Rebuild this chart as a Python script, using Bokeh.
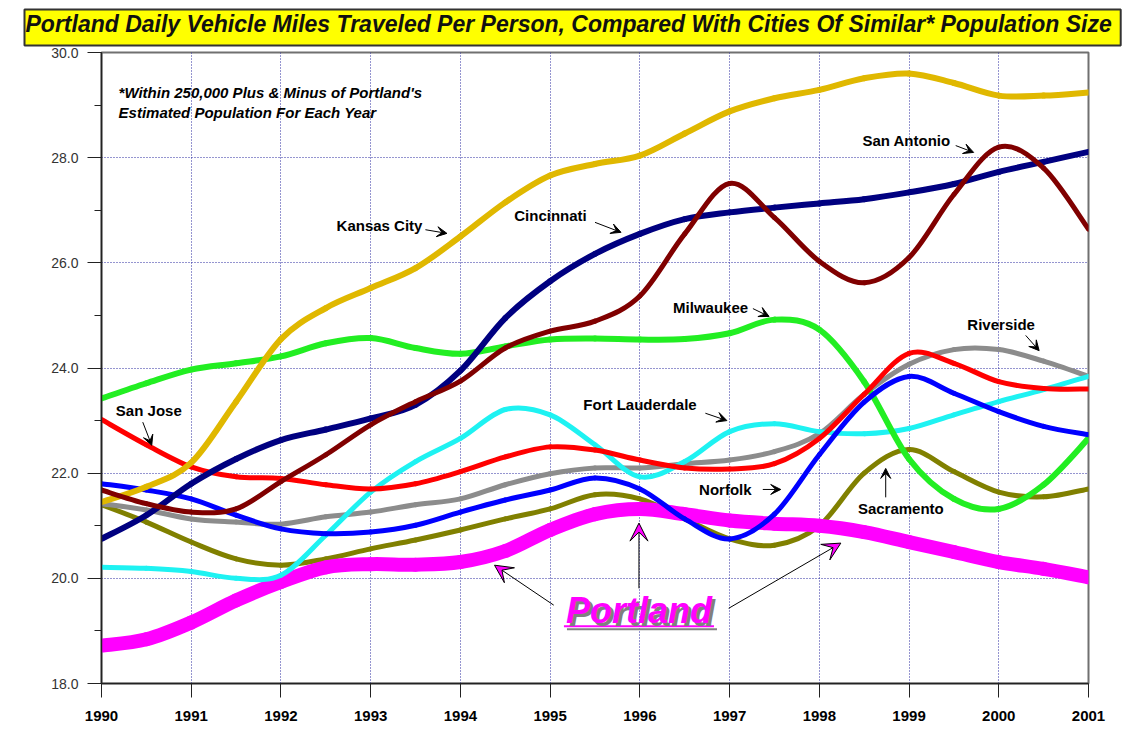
from bokeh.plotting import figure
from bokeh.models import (Range1d, FixedTicker, SingleIntervalTicker, Label, Arrow,
                          VeeHead, NumeralTickFormatter)
from bokeh.embed import file_html
from bokeh.resources import INLINE

# ---------------- data ----------------
years = [1990, 1990.5, 1991, 1991.5, 1992, 1992.5, 1993, 1993.5, 1994, 1994.5,
         1995, 1995.5, 1996, 1996.5, 1997, 1997.5, 1998, 1998.5, 1999, 1999.5,
         2000, 2000.5, 2001]

kansas_city = [21.45, 21.74, 22.2, 23.36, 24.55, 25.14, 25.52, 25.9, 26.5, 27.15,
               27.66, 27.88, 28.04, 28.46, 28.88, 29.13, 29.29, 29.51, 29.6, 29.42,
               29.18, 29.18, 29.24]
cincinnati = [20.75, 21.2, 21.8, 22.27, 22.63, 22.83, 23.04, 23.3, 23.95, 24.95,
              25.65, 26.17, 26.55, 26.83, 26.96, 27.05, 27.13, 27.21, 27.34, 27.5,
              27.73, 27.92, 28.11]
san_antonio = [21.68, 21.42, 21.26, 21.32, 21.84, 22.35, 22.92, 23.36, 23.75, 24.38,
               24.7, 24.89, 25.37, 26.55, 27.51, 26.86, 26.03, 25.62, 26.1, 27.3,
               28.2, 27.8, 26.64]
milwaukee = [23.42, 23.71, 23.97, 24.09, 24.22, 24.47, 24.57, 24.38, 24.27, 24.41,
             24.54, 24.56, 24.54, 24.55, 24.66, 24.92, 24.73, 23.74, 22.27, 21.51,
             21.32, 21.78, 22.66]
san_jose = [23.02, 22.54, 22.12, 21.93, 21.9, 21.78, 21.7, 21.8, 22.03, 22.31,
            22.5, 22.44, 22.25, 22.1, 22.08, 22.18, 22.66, 23.5, 24.28, 24.09,
            23.74, 23.61, 23.6]
riverside = [21.42, 21.3, 21.13, 21.07, 21.03, 21.17, 21.26, 21.4, 21.51, 21.78,
             21.99, 22.1, 22.1, 22.18, 22.25, 22.41, 22.75, 23.5, 24.07, 24.35,
             24.35, 24.13, 23.84]
norfolk = [21.8, 21.68, 21.51, 21.2, 20.94, 20.85, 20.88, 21.01, 21.26, 21.49,
           21.68, 21.91, 21.7, 21.13, 20.75, 21.22, 22.35, 23.35, 23.84, 23.52,
           23.17, 22.89, 22.73]
sacramento = [21.4, 21.07, 20.69, 20.37, 20.25, 20.37, 20.56, 20.73, 20.92, 21.13,
              21.32, 21.59, 21.51, 21.13, 20.75, 20.63, 21.0, 22.0, 22.45, 22.03,
              21.64, 21.55, 21.7]
fort_lauderdale = [20.21, 20.19, 20.13, 20.0, 20.06, 20.82, 21.64, 22.22, 22.66, 23.21,
                   23.11, 22.54, 21.93, 22.22, 22.79, 22.94, 22.79, 22.75, 22.85, 23.11,
                   23.36, 23.59, 23.84]
portland = [18.72, 18.84, 19.16, 19.58, 19.93, 20.21, 20.27, 20.26, 20.31, 20.52,
            20.92, 21.22, 21.32, 21.22, 21.1, 21.04, 21.0, 20.88, 20.69, 20.5,
            20.31, 20.18, 20.02]

year_ticks = [1990, 1991, 1992, 1993, 1994, 1995, 1996, 1997, 1998, 1999, 2000, 2001]

title_text = ("Portland Daily Vehicle Miles Traveled Per Person, Compared With "
              "Cities Of Similar* Population Size")
note_lines = ["*Within 250,000 Plus & Minus of Portland's",
              "Estimated Population For Each Year"]

FONT = "Liberation Sans"

# ---------------- figure ----------------
p = figure(width=1138, height=754, x_range=Range1d(1990, 2001), y_range=Range1d(18, 30),
           output_backend="svg", toolbar_location=None,
           min_border_left=101, min_border_right=50, min_border_top=52, min_border_bottom=71)
p.background_fill_color = "white"
p.border_fill_color = "white"
p.outline_line_color = "#707070"
p.outline_line_width = 2

# title box
p.title.text = title_text
p.title.text_font = FONT
p.title.text_font_size = "23px"
p.title.text_font_style = "bold italic"
p.title.text_color = "#111111"
p.title.align = "left"
p.title.offset = -77
p.title.standoff = 14
p.title.background_fill_color = "#FFFF00"
p.title.border_line_color = "#333333"
p.title.border_line_width = 2
p.title.padding = (1, 9, 1, 9)

p.xaxis.ticker = FixedTicker(ticks=year_ticks)
p.xaxis.major_label_text_font = FONT
p.xaxis.major_label_text_font_style = "bold"
p.xaxis.major_label_text_font_size = "15px"
p.xaxis.major_label_text_color = "black"
p.xaxis.major_tick_out = 14
p.xaxis.major_tick_in = 0
p.xaxis.minor_tick_out = 0
p.xaxis.major_label_standoff = 13
p.xaxis.axis_line_color = "#222222"
p.xaxis.axis_line_width = 1.5
p.xaxis.major_tick_line_color = "#222222"

p.yaxis.ticker = SingleIntervalTicker(interval=2, num_minor_ticks=2)
p.yaxis.formatter = NumeralTickFormatter(format="0.0")
p.yaxis.major_label_text_font = FONT
p.yaxis.major_label_text_font_size = "14px"
p.yaxis.major_label_text_color = "#333333"
p.yaxis.major_tick_out = 14
p.yaxis.major_tick_in = 0
p.yaxis.minor_tick_out = 7
p.yaxis.minor_tick_in = 0
p.yaxis.major_label_standoff = 9
p.yaxis.axis_line_color = "#222222"
p.yaxis.axis_line_width = 1.5
p.yaxis.major_tick_line_color = "#222222"
p.yaxis.minor_tick_line_color = "#222222"

p.xgrid.ticker = FixedTicker(ticks=year_ticks[1:-1])
p.ygrid.ticker = SingleIntervalTicker(interval=2)
for g in (p.xgrid, p.ygrid):
    g.grid_line_color = "#2a2aa0"
    g.grid_line_dash = "1 2"
    g.grid_line_width = 1


# ---------------- series (smoothed rendering through the read points) ----------------
def smooth_line(xs, ys, color, width):
    n = len(xs)
    x0, y0, x1, y1, cx0, cy0, cx1, cy1 = [], [], [], [], [], [], [], []
    for i in range(n - 1):
        a = max(i - 1, 0)
        d = min(i + 2, n - 1)
        x0.append(xs[i]); y0.append(ys[i])
        x1.append(xs[i + 1]); y1.append(ys[i + 1])
        cx0.append(xs[i] + (xs[i + 1] - xs[a]) / 6.0)
        cy0.append(ys[i] + (ys[i + 1] - ys[a]) / 6.0)
        cx1.append(xs[i + 1] - (xs[d] - xs[i]) / 6.0)
        cy1.append(ys[i + 1] - (ys[d] - ys[i]) / 6.0)
    p.bezier(x0=x0, y0=y0, x1=x1, y1=y1, cx0=cx0, cy0=cy0, cx1=cx1, cy1=cy1,
             line_color=color, line_width=width, line_cap="round")


series = [
    (sacramento, "#808000", 5),
    (portland, "#FF00FF", 14),
    (riverside, "#8c8c8c", 5),
    (fort_lauderdale, "#1ef2f2", 5),
    (milwaukee, "#22ee22", 6),
    (san_jose, "#FF0000", 5),
    (norfolk, "#0000FF", 5),
    (kansas_city, "#E0B800", 6),
    (cincinnati, "#000080", 6),
    (san_antonio, "#800000", 5),
]
for vals, col, w in series:
    smooth_line(years, vals, col, w)


# ---------------- annotations ----------------
def label(x, y, text, size="15px", style="bold", color="black", align="left", **kw):
    lab = Label(x=x, y=y, text=text, text_font=FONT, text_font_size=size,
                text_font_style=style, text_color=color, text_align=align,
                text_baseline="middle", **kw)
    p.add_layout(lab)
    return lab


# note
label(1990.19, 29.24, note_lines[0], size="15px", style="bold italic")
label(1990.19, 28.86, note_lines[1], size="15px", style="bold italic")

# city labels
city_labels = [
    ("Kansas City", 1992.62, 26.71),
    ("Cincinnati", 1994.60, 26.90),
    ("San Antonio", 1998.48, 28.33),
    ("Milwaukee", 1996.37, 25.15),
    ("Fort Lauderdale", 1995.37, 23.31),
    ("San Jose", 1990.16, 23.19),
    ("Norfolk", 1996.66, 21.69),
    ("Riverside", 1999.65, 24.83),
    ("Sacramento", 1998.43, 21.33),
]
for t, x, y in city_labels:
    label(x, y, t, size="15px")

city_arrows = [
    (1993.61, 26.63, 1993.85, 26.56),
    (1995.50, 26.77, 1995.79, 26.58),
    (1999.52, 28.23, 1999.72, 28.10),
    (1997.26, 25.13, 1997.44, 24.98),
    (1996.73, 23.14, 1996.97, 23.00),
    (1990.46, 22.97, 1990.56, 22.53),
    (1997.37, 21.69, 1997.57, 21.69),
    (2000.30, 24.62, 2000.45, 24.33),
    (1998.74, 21.54, 1998.74, 22.09),
]
for xs, ys, xe, ye in city_arrows:
    p.add_layout(Arrow(end=VeeHead(size=10, fill_color="black", line_color="black"),
                       x_start=xs, y_start=ys, x_end=xe, y_end=ye,
                       line_color="black", line_width=1))

portland_arrows = [
    (1995.04, 19.49, 1994.38, 20.25),
    (1995.99, 19.81, 1995.99, 21.05),
    (1996.99, 19.43, 1998.24, 20.67),
]
for xs, ys, xe, ye in portland_arrows:
    p.add_layout(Arrow(end=VeeHead(size=18, fill_color="#FF00FF", line_color="black",
                                   line_width=1),
                       x_start=xs, y_start=ys, x_end=xe, y_end=ye,
                       line_color="black", line_width=1))

# Portland big label with shadow and underline
px, py = 1995.99, 19.39
dx, dy = 3 / 89.7, 3 / 52.6
half_w = 75 / 89.7
ul = 0.30
p.line([px - half_w + dx, px + half_w + dx], [py - ul - dy, py - ul - dy],
       line_color="#808080", line_width=2)
p.line([px - half_w, px + half_w], [py - ul, py - ul], line_color="#FF00FF", line_width=2)
label(px + dx, py - dy, "Portland", size="36px", style="bold italic", color="#808080",
      align="center")
label(px, py, "Portland", size="36px", style="bold italic", color="#FF00FF", align="center")

open("out.html", "w").write(file_html(p, INLINE))
